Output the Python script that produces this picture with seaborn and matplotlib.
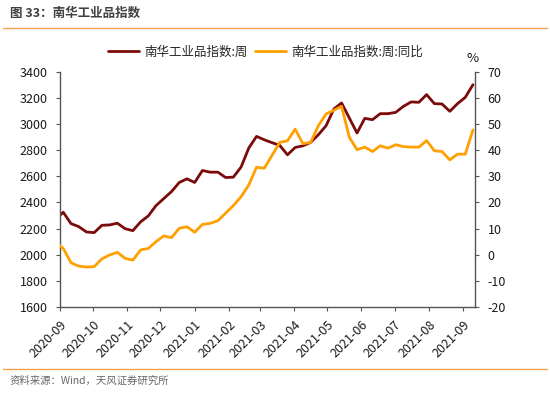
import pandas as pd
import matplotlib.pyplot as plt
import matplotlib.dates as mdates
from matplotlib.lines import Line2D
import seaborn as sns

# weekly data, 2020-08-28 .. 2021-09-10
dates = pd.date_range("2020-08-28", periods=55, freq="7D")
index_weekly = [2271, 2325, 2238, 2215, 2174, 2169, 2225, 2228, 2241, 2199,
                2184, 2251, 2297, 2376, 2430, 2483, 2553, 2581, 2553, 2645,
                2632, 2632, 2591, 2594, 2671, 2817, 2906, 2880, 2858, 2837,
                2765, 2821, 2834, 2860, 2919, 2988, 3116, 3162, 3047, 2932,
                3044, 3034, 3080, 3080, 3090, 3136, 3170, 3167, 3226, 3157,
                3154, 3098, 3157, 3205, 3302]
index_yoy = [4.9, 2.4, -3.1, -4.4, -4.7, -4.6, -1.6, -0.1, 0.9, -1.4,
             -2.1, 1.8, 2.4, 5.0, 7.2, 6.5, 10.1, 10.7, 8.6, 11.6,
             12.0, 13.0, 15.9, 18.8, 22.2, 26.7, 33.5, 33.1, 38.0, 43.0,
             43.6, 48.1, 42.5, 43.0, 49.4, 53.9, 55.3, 56.8, 45.0, 40.2,
             41.2, 39.5, 41.7, 40.8, 42.1, 41.4, 41.2, 41.2, 43.7, 39.8,
             39.5, 36.3, 38.5, 38.5, 47.8]
month_ticks = pd.date_range("2020-09-01", "2021-09-01", freq="MS")
label_main = "南华工业品指数:周"
label_yoy = "南华工业品指数:周:同比"

df = pd.DataFrame({"date": dates, "main": index_weekly, "yoy": index_yoy})

sns.set_theme(style="white")
plt.rcParams["font.family"] = ["Noto Sans CJK SC", "DejaVu Sans"]
plt.rcParams["axes.unicode_minus"] = False

fig = plt.figure(figsize=(5.5, 3.95), dpi=100)
ax = fig.add_axes([0.109, 0.223, 0.755, 0.595])
ax2 = ax.twinx()

sns.lineplot(data=df, x="date", y="main", ax=ax, color="#7B0A0A", linewidth=2.0, label=label_main)
sns.lineplot(data=df, x="date", y="yoy", ax=ax2, color="#FFA000", linewidth=2.0, label=label_yoy)

ax.set_xlim(pd.Timestamp("2020-09-01"), pd.Timestamp("2021-09-12"))
ax.set_ylim(1600, 3400)
ax.set_yticks(range(1600, 3401, 200))
ax2.set_ylim(-20, 70)
ax2.set_yticks(range(-20, 71, 10))
ax.set_xticks(month_ticks)
ax.xaxis.set_major_formatter(mdates.DateFormatter("%Y-%m"))
for lab in ax.get_xticklabels():
    lab.set_rotation(45)
    lab.set_ha("right")
    lab.set_rotation_mode("anchor")

ax.set_xlabel("")
ax.set_ylabel("")
ax2.set_ylabel("")

spine_c = "#555555"
for a in (ax, ax2):
    a.spines["top"].set_visible(False)
    for s in ("left", "right", "bottom"):
        a.spines[s].set_color(spine_c)
        a.spines[s].set_linewidth(1.0)
    a.tick_params(labelsize=9, colors="#1a1a1a", length=3, width=0.8, pad=6)
    a.grid(False)
ax.spines["right"].set_visible(False)
ax2.spines["left"].set_visible(False)
ax2.spines["bottom"].set_visible(False)
ax.tick_params(axis="both", direction="out", color=spine_c, left=True, bottom=True)
ax2.tick_params(axis="y", direction="out", color=spine_c, right=True)
ax.tick_params(axis="x", pad=5)

h1, l1 = ax.get_legend_handles_labels()
h2, l2 = ax2.get_legend_handles_labels()
ax.get_legend().remove()
ax2.get_legend().remove()
fig.legend(h1 + h2, l1 + l2, loc="center", bbox_to_anchor=(0.482, 0.868), ncol=2,
           frameon=False, fontsize=9, handlelength=2.5, columnspacing=0.6, handletextpad=0.4)

fig.text(473 / 550, 1 - 58 / 395, "%", ha="center", va="center", fontsize=9.5, color="#1a1a1a")

# header and footer
fig.text(0.018, 0.967, "图 33：南华工业品指数", ha="left", va="center",
         fontsize=9, fontweight="bold", color="#404040")
fig.text(0.018, 0.035, "资料来源：Wind，天风证券研究所", ha="left", va="center",
         fontsize=7.5, color="#666666")
for yy in (0.929, 0.066):
    fig.add_artist(Line2D([0.005, 0.995], [yy, yy], transform=fig.transFigure,
                          color="#F0A050", linewidth=1.0))

fig.savefig("out.png", dpi=100)
